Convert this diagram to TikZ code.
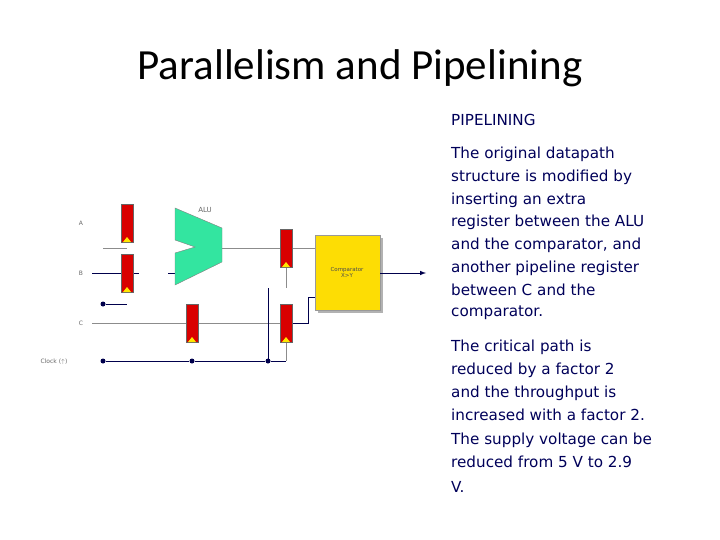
\documentclass[tikz,border=0pt]{standalone}
\usepackage{fontspec}
\setmainfont{Carlito}
\newfontfamily\txtfont{DejaVu Sans}
\definecolor{alug}{HTML}{33E5A0}
\begin{document}
\begin{tikzpicture}[x=1pt,y=-1pt,
  reg/.style={draw=black!60,fill=red!85!black,line width=0.4pt},
  wire/.style={draw=black!45,line width=0.6pt},
  bwire/.style={draw=blue!30!black,line width=1pt},
  dot/.style={circle,fill=blue!30!black,inner sep=0pt,minimum size=5pt},
  lab/.style={font=\txtfont\fontsize{6}{6}\selectfont,text=black!60},
  tl/.style={anchor=west,inner sep=0pt,text=blue!35!black,font=\txtfont\fontsize{15.2}{16}\selectfont}]
\useasboundingbox (0,0) rectangle (720,540);
\node (title) at (360,68) {\fontsize{43}{45}\selectfont Parallelism and Pipelining};
% wires
\node[lab] (la) at (81,223) {A};
\node[lab] (lb) at (81,273) {B};
\node[lab] (lc) at (81,323) {C};
\node[lab] (lk) at (54,362) {Clock ($\uparrow$)};
\draw[wire] (103,248) -- (127,248);
\draw[bwire,line width=0.6pt] (92,273) -- (139,273);
\draw[bwire,line width=0.6pt] (168,273) -- (175,273);
\node[dot] (d0) at (103,304) {};
\draw[bwire] (d0) -- (127,304);
\draw[wire] (92,323) -- (280,323);
\draw[wire] (222,248) -- (315,248);
\draw[wire] (286,267) -- (286,288);
\draw[bwire] (268,288) -- (268,361);
\draw[wire] (286,342) -- (286,361);
\draw[bwire] (293,323) -- (308,323) -- (308,297) -- (315,297);
\node[dot] (k1) at (103,361) {};
\node[dot] (k2) at (192,361) {};
\node[dot] (k3) at (268,361) {};
\draw[bwire] (k1) -- (k2) -- (k3) -- (286,361);
% registers
\foreach \n/\x/\y in {ra/121/204,rb/121/254,rc/186/304,r2/280/229,r3/280/304}{
  \draw[reg] (\x,\y) rectangle ++(12,38);
  \fill[yellow!90!orange] (\x+2,\y+38) -- (\x+6,\y+33) -- (\x+10,\y+38) -- cycle;
}
% ALU
\draw[fill=alug,draw=black!50] (175,208) -- (222,228) -- (222,262) -- (175,285) -- (175,253) -- (195,247) -- (175,240) -- cycle;
\node[lab,font=\txtfont\fontsize{7}{7}\selectfont] (alu) at (205,210) {ALU};
% comparator
\fill[black!30] (318,238) rectangle (383,313);
\node[draw=black!40,fill=yellow!80!orange,minimum width=65pt,minimum height=75pt,inner sep=0pt,anchor=north west] (cmp) at (315,235) {};
\node[lab,align=center,font=\txtfont\fontsize{5.5}{6}\selectfont,text=black!70] at (347,272) {Comparator\\X>Y};
\coordinate (out) at (426,273);
\draw[bwire,-latex] (380,273) -- (out);
% text
\node[tl] at (451,120) {PIPELINING};
\foreach \t/\y in {The original datapath/154,structure is modified by/177,inserting an extra/200,register between the ALU/222,and the comparator{,} and/245,another pipeline register/268,between C and the/290,comparator./313,The critical path is/347,reduced by a factor 2/370,and the throughput is/393,increased with a factor 2./415,The supply voltage can be/440,reduced from 5 V to 2.9/462,V./487}
  \node[tl] at (451,\y) {\t};
\end{tikzpicture}
\end{document}
